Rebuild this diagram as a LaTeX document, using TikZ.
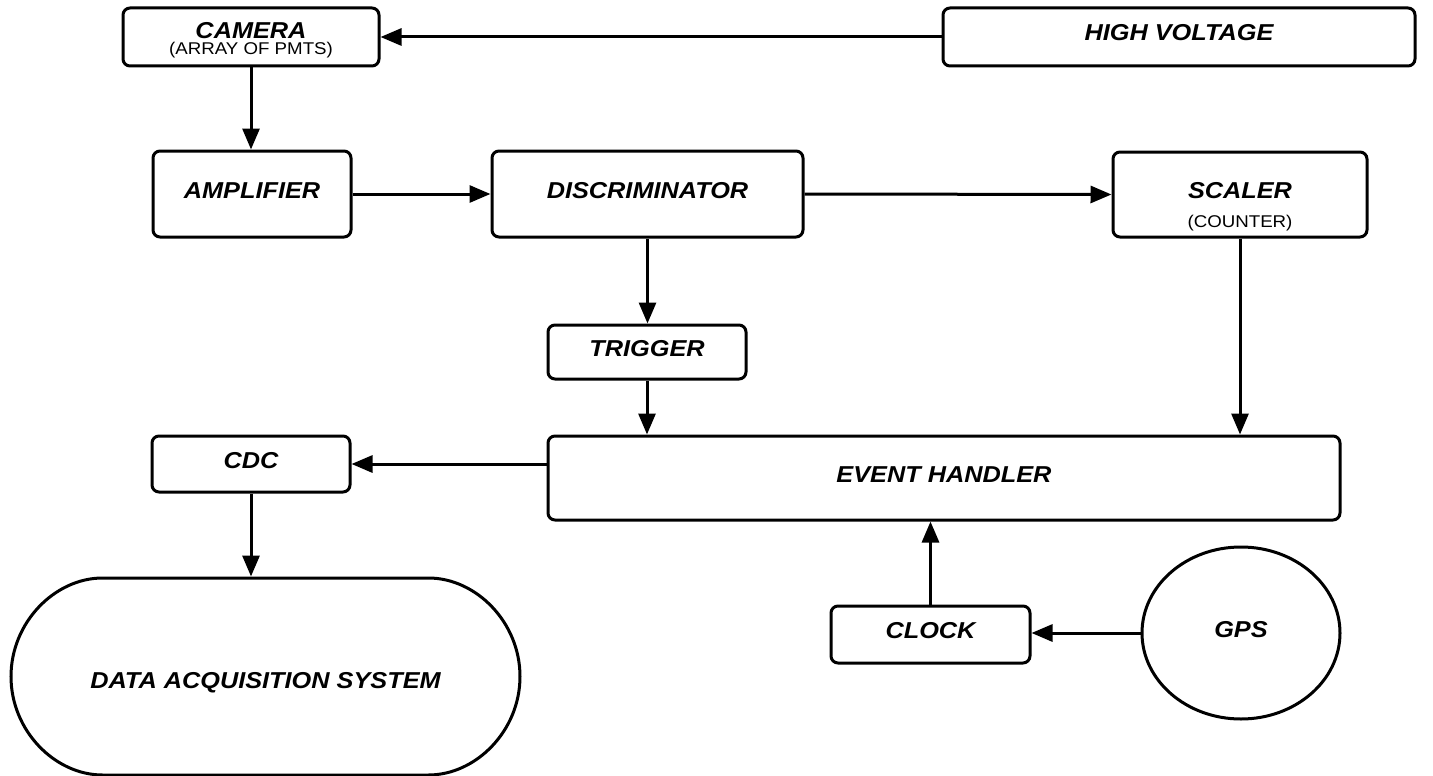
\documentclass[tikz,border=0pt]{standalone}
\usepackage{fontspec}
\setmainfont{Liberation Sans}
\newfontfamily\lblfont[FakeStretch=1.1]{Liberation Sans}
\usetikzlibrary{arrows.meta,shapes.geometric,shapes.misc}
\newcommand\mainlbl{\lblfont\bfseries\itshape\fontsize{23}{25}\selectfont}
\newcommand\sublbl{\lblfont\fontsize{17}{19}\selectfont}
\tikzset{
  blk/.style={draw, line width=3pt, rounded corners=7pt, inner sep=0pt,
    font=\mainlbl, text height=16pt, text depth=8pt},
  subtext/.style={font=\sublbl, inner sep=0pt, text height=12pt, text depth=0pt},
  maintext/.style={font=\mainlbl, inner sep=0pt, text height=16pt, text depth=0pt},
  arr/.style={line width=3pt, -{Triangle[length=21pt,width=17pt]}}
}
\begin{document}
\begin{tikzpicture}[x=1pt,y=-1pt]
  \useasboundingbox (0,0) rectangle (1433,776);

  % blocks
  \node[blk, minimum width=256pt, minimum height=58pt] (cam) at (251,37) {};
  \node[maintext] (camt) at ([yshift=6pt]cam.center) {CAMERA};
  \node[subtext] (cams) at ([yshift=-11.5pt]cam.center) {(ARRAY OF PMTS)};

  \node[blk, minimum width=472pt, minimum height=58pt] (hv) at (1179,37) {HIGH VOLTAGE};
  \node[blk, minimum width=198pt, minimum height=86pt] (amp) at (252,194) {AMPLIFIER};
  \node[blk, minimum width=311pt, minimum height=86pt] (disc) at (647.5,194) {DISCRIMINATOR};
  \node[blk, minimum width=254pt, minimum height=85pt] (scaler) at (1240,194.5) {SCALER};
  \node[subtext] (scalers) at ([yshift=-26.5pt]scaler.center) {(COUNTER)};
  \node[blk, minimum width=198pt, minimum height=54pt] (trig) at (647,352) {TRIGGER};
  \node[blk, minimum width=198pt, minimum height=56pt] (cdc) at (251,464) {CDC};
  \node[blk, minimum width=792pt, minimum height=84pt] (eh) at (944,478) {EVENT HANDLER};
  \node[blk, minimum width=199pt, minimum height=57pt] (clk) at (930.5,634.5) {CLOCK};
  \node[blk, ellipse, minimum width=198pt, minimum height=172pt] (gps) at (1241,633) {GPS};
  \node[blk, rounded rectangle, minimum width=509pt, minimum height=197pt,
        text height=24pt, text depth=0pt] (daq) at (265.5,676.5) {DATA ACQUISITION SYSTEM};

  % signal flow
  \draw[arr] (hv.west) -- (cam.east);
  \draw[arr] (cam.south) -- (cam.south |- amp.north);
  \draw[arr] (amp.east) -- (disc.west);
  \draw[arr] (disc.east) -- (scaler.west);
  \draw[arr] (disc.south) -- (disc.south |- trig.north);
  \draw[arr] (trig.south) -- (trig.south |- eh.north);
  \draw[arr] (scaler.south) -- (scaler.south |- eh.north);
  \draw[arr] (cdc.east -| eh.west) -- (cdc.east);
  \draw[arr] (cdc.south) -- (cdc.south |- daq.north);
  \draw[arr] (clk.north) -- (clk.north |- eh.south);
  \draw[arr] (gps.west) -- (clk.east |- gps.west);
\end{tikzpicture}
\end{document}
